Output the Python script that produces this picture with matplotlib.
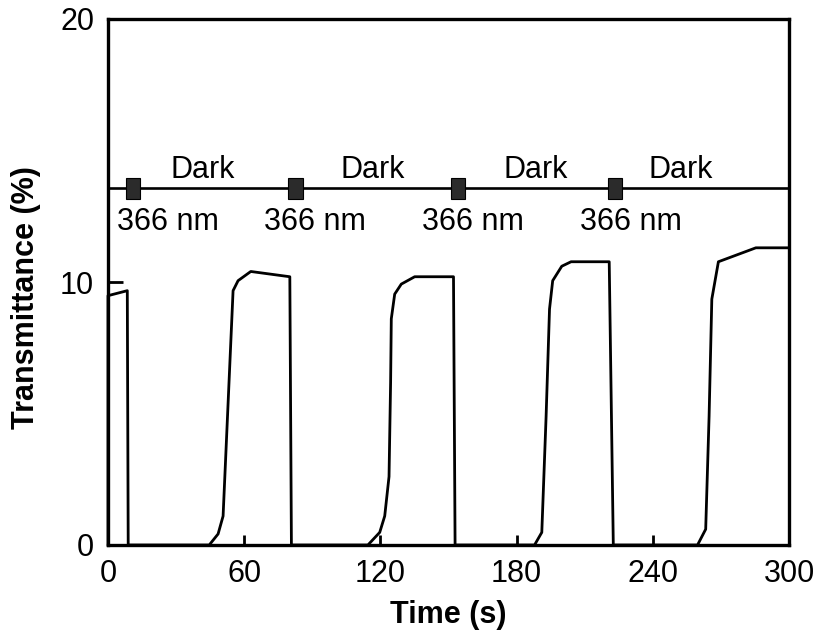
import matplotlib
matplotlib.use('Agg')
import matplotlib.pyplot as plt
from matplotlib.patches import Rectangle

plt.rcParams['font.family'] = ['Liberation Sans', 'DejaVu Sans']

# transmittance trace
time_s = [0, 0, 8.5, 8.9, 44.6, 48.5, 50.7, 55.1, 57.3, 62.9, 80.1, 80.8,
          114.5, 119.7, 121.9, 123.8, 124.5, 124.8, 126.3, 129.2, 135.1, 152.2, 152.9,
          187.9, 191.1, 193.0, 194.5, 195.9, 199.9, 204.0, 220.8, 222.6,
          259.7, 263.3, 264.8, 266.0, 268.9, 285.4, 300]
trans = [0, 9.48, 9.67, 0, 0, 0.42, 1.1, 9.67, 10.05, 10.4, 10.2, 0,
         0, 0.48, 1.1, 2.6, 6.2, 8.6, 9.54, 9.92, 10.2, 10.2, 0,
         0, 0.48, 4.9, 8.97, 10.05, 10.6, 10.77, 10.77, 0,
         0, 0.6, 4.9, 9.35, 10.77, 11.3, 11.3]

# irradiation schedule bar
bar_level = 13.56
uv_times = [11.1, 82.6, 154.1, 223.3]
dark_x = [41.7, 116.8, 188.6, 252.4]
uv_label_x = [26.5, 91.0, 160.7, 230.4]
xticks = [0, 60, 120, 180, 240, 300]
yticks = [0, 10, 20]

fig = plt.figure(figsize=(8.19, 6.33), dpi=100)
ax = fig.add_axes([108/819, 1-545/633, 681/819, 526/633])

ax.plot(time_s, trans, color='black', lw=2.0, clip_on=False, zorder=3)

ax.plot([0, 300], [bar_level, bar_level], color='black', lw=1.9)
for t in uv_times:
    ax.add_patch(Rectangle((t - 3.2, bar_level - 0.4), 6.4, 0.8,
                           facecolor='#2b2b2b', edgecolor='black', lw=0.8, zorder=4))
for x in dark_x:
    ax.text(x, 13.95, 'Dark', ha='center', va='baseline', fontsize=22)
for x in uv_label_x:
    ax.text(x, 12.3, '366 nm', ha='center', va='center', fontsize=22)

ax.set_xlim(0, 300)
ax.set_ylim(0, 20)
ax.set_xticks(xticks)
ax.set_yticks(yticks)
ax.tick_params(axis='x', direction='in', length=7, width=2, labelsize=22, pad=10)
ax.tick_params(axis='y', direction='in', length=11, width=2, labelsize=22, pad=10)
for s in ax.spines.values():
    s.set_linewidth(2.4)

ax.set_xlabel('Time (s)', fontsize=22, fontweight='bold', labelpad=8)
ax.set_ylabel('Transmittance (%)', fontsize=22, fontweight='bold')
ax.yaxis.set_label_coords(-0.098, 0.47)

fig.savefig('out.png', dpi=100)
